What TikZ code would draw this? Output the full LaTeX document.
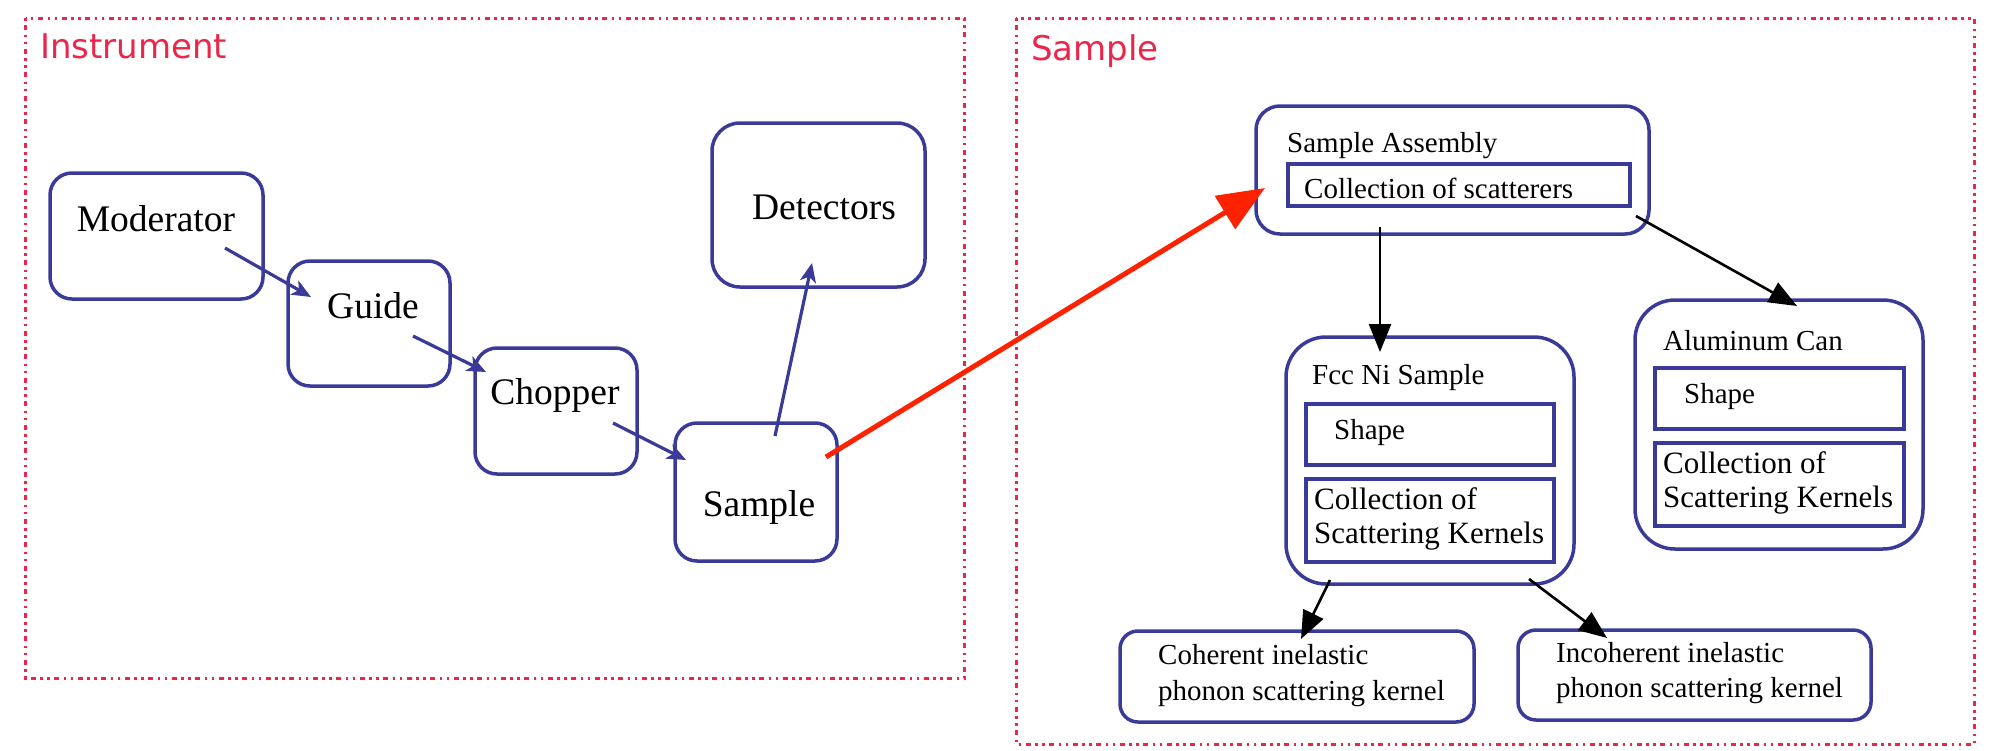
\documentclass[tikz,border=0pt]{standalone}
\usepackage{fontspec}
\setmainfont{Liberation Serif}
\newfontfamily\labelfont{DejaVu Sans}
\usetikzlibrary{arrows.meta}
\definecolor{boxblue}{RGB}{58,58,152}
\definecolor{labred}{RGB}{234,38,74}
\definecolor{arrred}{RGB}{255,34,0}
\tikzset{
  rbox/.style={draw=boxblue,line width=3.5pt,rounded corners=#1,inner sep=0pt,fill=none},
  rbox/.default=22pt,
  ibox/.style={draw=boxblue,line width=3.5pt,inner sep=0pt},
  bigtxt/.style={inner sep=0pt,font=\fontsize{37.5}{42}\selectfont},
  smtxt/.style={inner sep=0pt,anchor=west,font=\fontsize{29}{35.5}\selectfont,align=left},
  kertxt/.style={inner sep=0pt,anchor=west,font=\fontsize{31}{34}\selectfont,align=left},
  frame/.style={draw=labred,line width=3pt,dash pattern=on 2.5pt off 4.5pt on 5pt off 4.5pt on 2.5pt off 4.5pt},
  frametxt/.style={inner sep=0pt,anchor=base west,text=labred,font=\labelfont\fontsize{34}{40}\selectfont},
  bluearr/.style={draw=boxblue,line width=3.2pt,-{Stealth[length=19pt,width=16pt,inset=5pt]}},
  blkarr/.style={draw=black,line width=2.6pt,-{Triangle[length=28pt,width=22pt]}},
  redarr/.style={draw=arrred,line width=5pt,-{Triangle[length=47pt,width=38pt]}},
}
\begin{document}
\begin{tikzpicture}[x=1pt,y=-1pt]
\useasboundingbox (0,0) rectangle (2000,750);
% frames
\draw[frame] (25.5,18) rectangle (964,678);
\draw[frame] (1016,18) rectangle (1974,744);
\node[frametxt] (linst) at (40,58) {Instrument};
\node[frametxt] (lsamp) at (1031,60) {Sample};
% instrument boxes
\node[rbox, minimum width=213pt, minimum height=126pt] (mod) at (156.5,236) {};
\node[bigtxt] (tmod) at (156,219) {Moderator};
\node[rbox, minimum width=162pt, minimum height=125pt] (gui) at (369,323.5) {};
\node[bigtxt] (tgui) at (373,306) {Guide};
\node[rbox, minimum width=162pt, minimum height=126pt] (cho) at (556,411) {};
\node[bigtxt] (tcho) at (555,395) {Chopper};
\node[rbox, minimum width=162pt, minimum height=138pt] (sam) at (756,492) {};
\node[bigtxt] (tsam) at (759,507) {Sample};
\node[rbox=28pt, minimum width=213pt, minimum height=164pt] (det) at (818.5,205) {};
\node[bigtxt] (tdet) at (824,207) {Detectors};
% sample side
\node[rbox=24pt, minimum width=393pt, minimum height=128pt] (sa) at (1452.5,170) {};
\node[smtxt] (tsa) at (1287,146) {Sample Assembly};
\node[ibox, minimum width=342pt, minimum height=42pt] (sacol) at (1459,185) {};
\node[smtxt] (tsacol) at (1304,188) {Collection of scatterers};

\node[rbox=40pt, minimum width=288pt, minimum height=247pt] (fcc) at (1430,460.5) {};
\node[smtxt] (tfcc) at (1312,378) {Fcc Ni Sample};
\node[ibox, minimum width=248pt, minimum height=61pt] (fccsh) at (1430,434.5) {};
\node[smtxt] (tfccsh) at (1334,433) {Shape};
\node[ibox, minimum width=248pt, minimum height=83pt] (fccco) at (1430,520.5) {};
\node[kertxt] (tfccco) at (1314,519) {Collection of\\Scattering Kernels};

\node[rbox=40pt, minimum width=288pt, minimum height=249pt] (al) at (1779,424.5) {};
\node[smtxt] (tal) at (1663,341) {Aluminum Can};
\node[ibox, minimum width=249pt, minimum height=61pt] (alsh) at (1779.5,398.5) {};
\node[smtxt] (talsh) at (1684,397) {Shape};
\node[ibox, minimum width=249pt, minimum height=83pt] (alco) at (1779.5,484.5) {};
\node[kertxt] (talco) at (1663,483) {Collection of\\Scattering Kernels};

\node[rbox=18pt, minimum width=354pt, minimum height=91pt] (coh) at (1297,676.5) {};
\node[smtxt] (tcoh) at (1158,675.5) {Coherent inelastic\\phonon scattering kernel};
\node[rbox=18pt, minimum width=353pt, minimum height=90pt] (inc) at (1694.5,675) {};
\node[smtxt] (tinc) at (1556,673) {Incoherent inelastic\\phonon scattering kernel};

% arrow end points
\coordinate (a1s) at (225,248); \coordinate (a1e) at (311,297);
\coordinate (a2s) at (413,336); \coordinate (a2e) at (486,372);
\coordinate (a3s) at (613,423); \coordinate (a3e) at (686,460);
\coordinate (a4s) at (775,436); \coordinate (a4e) at (812,263);
\coordinate (rs) at (826,457);  \coordinate (re) at (1265,188);
\coordinate (b1s) at (1380,227); \coordinate (b1e) at (1380,352);
\coordinate (b2s) at (1636,216); \coordinate (b2e) at (1797,306);
\coordinate (b3s) at (1330,580); \coordinate (b3e) at (1301,639);
\coordinate (b4s) at (1529,579); \coordinate (b4e) at (1607,638);

\draw[bluearr] (a1s) -- (a1e);
\draw[bluearr] (a2s) -- (a2e);
\draw[bluearr] (a3s) -- (a3e);
\draw[bluearr] (a4s) -- (a4e);
\draw[redarr] (rs) -- (re);
\draw[blkarr] (b1s) -- (b1e);
\draw[blkarr] (b2s) -- (b2e);
\draw[blkarr] (b3s) -- (b3e);
\draw[blkarr] (b4s) -- (b4e);
\end{tikzpicture}
\end{document}
